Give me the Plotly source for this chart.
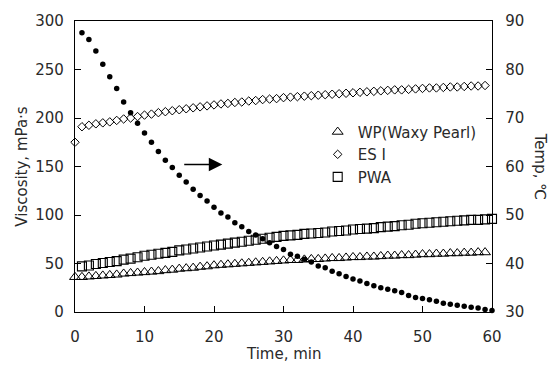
import plotly.graph_objects as go

# Viscosity of three starches (left axis) and the cooling temperature profile (right axis)
time_wp = list(range(0, 60))
visc_wp = [36, 36, 36.5, 37, 37.5, 38, 38.5, 39.5, 40, 40.5,
           41, 41.5, 42, 43, 43.5, 44.5, 45, 45.5, 46.5, 47,
           48, 48.5, 49, 49.5, 50, 50.5, 51, 51.5, 52, 52.5,
           53, 53.5, 53.5, 54, 54.5, 54.5, 55, 55.5, 55.5, 56,
           56.5, 56.5, 57, 57, 57.5, 58, 58, 58.5, 58.5, 59,
           59.5, 59.5, 60, 60, 60.5, 60.5, 61, 61, 61.5, 61.5]

time_es = list(range(0, 60))
visc_es = [175,
           191, 192.5, 194, 195, 196, 197.5, 199, 200, 201.5, 203,
           204, 205.5, 206.5, 207.5, 208.5, 209.5, 210.5, 211.5, 212.5, 213.5,
           214.5, 215, 216, 216.5, 217.5, 218, 219, 219.5, 220, 221,
           221.5, 222, 222.5, 223, 223.5, 224, 224.5, 225, 225.5, 226,
           226.5, 227, 227.5, 228, 228.5, 229, 229, 229.5, 230, 230.5,
           231, 231, 231.5, 232, 232, 232.5, 233, 233, 233.5]

time_pwa = list(range(1, 61))
visc_pwa = [47, 48, 49.5, 50.5, 51.5, 52.5, 54, 55, 56.5, 58,
            59, 60, 61, 62, 63.5, 64.5, 65.5, 66.5, 67.5, 68.5,
            69.5, 70.5, 71.5, 72.5, 73.5, 74.5, 75.5, 76.5, 77.5, 78.5,
            79, 79.5, 80.5, 81, 81.5, 82, 83, 83.5, 84, 85,
            85.5, 86, 86.5, 87.5, 88, 88.5, 89.5, 90, 91, 91.5,
            92, 92.5, 93, 93.5, 94, 94.5, 95, 95, 95.5, 96]

time_temp = list(range(1, 61))
temp_c = [87.6, 86.2, 83.8, 81.1, 78.5, 76.1, 73.3, 71.1, 68.9, 66.9,
          65.0, 63.1, 61.3, 59.8, 58.2, 56.8, 55.3, 54.0, 52.9, 51.6,
          50.4, 49.6, 48.4, 47.6, 46.6, 45.9, 45.1, 44.3, 43.5, 42.9,
          41.9, 41.5, 40.9, 40.3, 39.5, 39.1, 38.4, 37.9, 37.3, 36.8,
          36.4, 35.9, 35.4, 35.0, 34.7, 34.4, 34.0, 33.4, 33.0, 32.8,
          32.5, 32.2, 31.8, 31.6, 31.4, 31.2, 31.0, 30.8, 30.5, 30.3]

x_ticks = [0, 10, 20, 30, 40, 50, 60]
visc_ticks = [0, 50, 100, 150, 200, 250, 300]
temp_ticks = [30, 40, 50, 60, 70, 80, 90]

FONT = "DejaVu Sans"
INK = "#2a2a2a"

fig = go.Figure()

fig.add_trace(go.Scatter(
    x=time_wp, y=visc_wp, mode="markers", name="WP(Waxy Pearl)",
    marker=dict(symbol="triangle-up-open", size=9.5, color="black",
                line=dict(width=1, color="black")),
    cliponaxis=False))
fig.add_trace(go.Scatter(
    x=time_es, y=visc_es, mode="markers", name="ES I",
    marker=dict(symbol="diamond-open", size=6.5, color="black",
                line=dict(width=1, color="black")),
    cliponaxis=False))
fig.add_trace(go.Scatter(
    x=time_pwa, y=visc_pwa, mode="markers", name="PWA",
    marker=dict(symbol="square-open", size=9, color="black",
                line=dict(width=1.1, color="black")),
    cliponaxis=False))
fig.add_trace(go.Scatter(
    x=time_temp, y=temp_c, mode="markers", name="Temp", yaxis="y2",
    showlegend=False,
    marker=dict(symbol="circle", size=5.5, color="black"),
    cliponaxis=False))

# arrow pointing the temperature curve to the right-hand axis
fig.add_annotation(x=21.2, y=152, ax=15.5, ay=152, xref="x", yref="y",
                   axref="x", ayref="y", text="", showarrow=True,
                   arrowhead=2, arrowsize=1.8, arrowwidth=1.5,
                   arrowcolor="black")

# axis titles
fig.add_annotation(x=-0.129, y=0.5, xref="paper", yref="paper",
                   text="Viscosity, mPa·s", textangle=-90, showarrow=False,
                   xanchor="center", yanchor="middle",
                   font=dict(family=FONT, size=15, color=INK))
fig.add_annotation(x=1.117, y=0.5, xref="paper", yref="paper",
                   text="Temp, ℃", textangle=90, showarrow=False,
                   xanchor="center", yanchor="middle",
                   font=dict(family=FONT, size=15, color=INK))
fig.add_annotation(x=0.5, y=-0.1436, xref="paper", yref="paper",
                   text="Time, min", showarrow=False,
                   xanchor="center", yanchor="middle",
                   font=dict(family=FONT, size=15, color=INK))

axis_common = dict(showline=True, linecolor="black", linewidth=1.3,
                   ticks="inside", ticklen=6, tickcolor="black", tickwidth=1.2,
                   showgrid=False, zeroline=False,
                   tickfont=dict(family=FONT, size=15, color=INK))

fig.update_layout(
    width=556, height=365,
    margin=dict(l=75, r=63.5, t=12.5, b=53),
    paper_bgcolor="white", plot_bgcolor="white",
    showlegend=True,
    legend=dict(x=0.582, y=0.675, xanchor="left", yanchor="top",
                bgcolor="rgba(0,0,0,0)", borderwidth=0,
                font=dict(family=FONT, size=15, color=INK),
                itemwidth=30),
    xaxis=dict(range=[0, 60], tickvals=x_ticks, mirror=True,
               ticklabelstandoff=11, **axis_common),
    yaxis=dict(range=[0, 300], tickvals=visc_ticks,
               ticklabelstandoff=7, **axis_common),
    yaxis2=dict(range=[30, 90], tickvals=temp_ticks, overlaying="y",
                side="right", ticklabelstandoff=9, **axis_common),
)

fig.write_html("out.html")
